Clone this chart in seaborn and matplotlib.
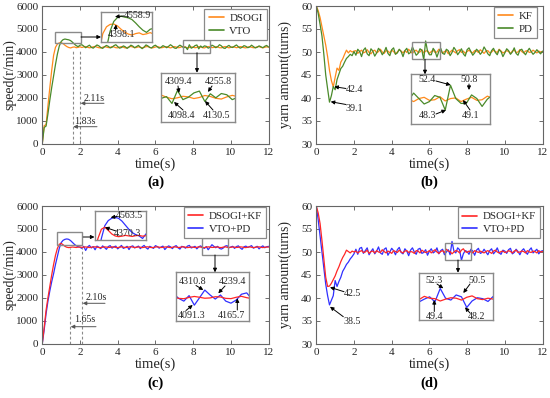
import numpy as np
import pandas as pd
import seaborn as sns
import matplotlib.pyplot as plt
from matplotlib.patches import Rectangle
from matplotlib.lines import Line2D

W, H = 550, 398

# time grid, 0.1 s steps
time = np.round(np.arange(121) * 0.1, 1)

# (a) motor speed, r/min
speed_dsogi = [
    0, 780, 820, 1650, 2450, 3200, 3850, 4200, 4340, 4390,
    4398, 4360, 4290, 4230, 4190, 4170, 4200, 4215, 4180, 4195, 4220,
    4190, 4215, 4230, 4200, 4175, 4190, 4220, 4235, 4205, 4180,
    4170, 4200, 4225, 4210, 4185, 4195, 4230, 4215, 4180, 4175,
    4205, 4228, 4200, 4170, 4185, 4215, 4235, 4210, 4180, 4190,
    4220, 4200, 4175, 4195, 4225, 4230, 4195, 4170, 4185, 4210,
    4232, 4205, 4178, 4190, 4218, 4225, 4195, 4172, 4200, 4230,
    4210, 4180, 4188, 4222, 4236, 4200, 4175, 4190, 4215, 4205,
    4178, 4195, 4228, 4212, 4182, 4170, 4205, 4230, 4208, 4185,
    4192, 4225, 4218, 4180, 4176, 4210, 4234, 4200, 4174, 4195,
    4220, 4205, 4180, 4198, 4230, 4215, 4182, 4172, 4206, 4228,
    4200, 4178, 4190, 4222, 4230, 4196, 4175, 4200, 4218, 4205]
speed_vto = [
    0, 700, 760, 1300, 1900, 2450, 2950, 3450, 3900, 4250,
    4450, 4530, 4559, 4540, 4525, 4490, 4420, 4340, 4270, 4225, 4290,
    4310, 4250, 4180, 4240, 4290, 4200, 4160, 4230, 4300, 4260,
    4190, 4150, 4220, 4280, 4240, 4170, 4200, 4270, 4310, 4230,
    4160, 4190, 4260, 4220, 4150, 4210, 4290, 4250, 4180, 4230,
    4280, 4200, 4140, 4210, 4300, 4260, 4190, 4170, 4250, 4290,
    4220, 4160, 4200, 4270, 4230, 4180, 4240, 4310, 4250, 4170,
    4150, 4230, 4290, 4240, 4180, 4210, 4098, 4309, 4160, 4200,
    4270, 4300, 4130, 4256, 4190, 4260, 4240, 4160, 4200, 4290,
    4250, 4180, 4220, 4310, 4260, 4170, 4150, 4230, 4280, 4210,
    4190, 4250, 4300, 4220, 4160, 4200, 4270, 4240, 4180, 4210,
    4290, 4230, 4170, 4200, 4260, 4220, 4180, 4240, 4280, 4210]

# (b) yarn amount, turns
yarn_kf = [
    60, 59.0, 57.5, 55.5, 53.5, 51.5, 49.0, 46.0, 43.8, 42.4,
    44.5, 46.5, 46.0, 47.8, 48.5, 49.5, 50.4, 49.8, 50.3, 50.0, 50.2,
    50.3, 49.7, 50.1, 50.4, 49.8, 50.0, 50.5, 49.9, 49.6, 50.2,
    50.4, 49.8, 50.1, 50.6, 50.0, 49.7, 50.3, 50.2, 49.8, 50.4,
    50.1, 49.6, 50.0, 50.5, 50.2, 49.8, 50.3, 49.9, 50.6, 50.1,
    49.7, 50.2, 50.4, 49.9, 50.0, 50.5, 49.8, 50.2, 50.3, 49.7,
    50.1, 50.4, 49.9, 50.0, 50.6, 50.2, 49.8, 50.1, 50.3, 49.6,
    50.0, 50.4, 50.1, 49.8, 50.3, 50.5, 49.9, 50.2, 49.7, 50.1,
    50.4, 50.0, 49.8, 50.3, 50.2, 49.9, 50.5, 50.1, 49.7, 50.2,
    50.3, 49.8, 50.0, 50.4, 50.1, 49.9, 50.6, 50.2, 49.8, 50.0,
    50.3, 50.1, 49.7, 50.2, 50.4, 49.9, 50.0, 50.5, 50.1, 49.8,
    50.2, 50.3, 49.9, 50.0, 50.4, 50.1, 49.8, 50.2, 50.0, 50.1]
yarn_pd = [
    60, 58.4, 56.0, 53.5, 49.5, 45.0, 42.0, 39.1, 40.5, 42.5,
    41.8, 44.0, 45.2, 46.4, 46.9, 47.8, 48.6, 49.0, 49.5, 49.2, 50.1,
    49.3, 50.6, 50.1, 49.0, 50.4, 50.9, 49.6, 49.2, 50.7, 50.2,
    49.1, 49.8, 50.8, 50.3, 49.4, 50.0, 51.0, 49.7, 49.2, 50.5,
    50.9, 49.5, 49.8, 50.6, 50.1, 49.0, 50.3, 50.8, 49.6, 49.9,
    51.1, 50.2, 49.3, 49.7, 50.7, 50.4, 48.3, 52.4, 50.2, 49.4,
    49.4, 50.8, 50.2, 48.9, 50.1, 50.8, 49.7, 49.5, 50.6, 50.3,
    49.2, 49.9, 51.0, 50.4, 49.4, 50.0, 50.7, 49.6, 49.1, 50.5,
    50.9, 50.1, 49.3, 49.8, 50.6, 50.2, 49.5, 50.0, 51.1, 50.4,
    49.6, 49.2, 50.3, 50.8, 49.9, 49.4, 50.5, 50.1, 49.0, 49.8,
    50.7, 50.3, 49.5, 50.0, 50.9, 49.7, 49.3, 50.4, 50.6, 49.9,
    49.4, 50.2, 50.8, 50.1, 49.5, 49.9, 50.5, 50.0, 49.6, 50.2]

# (c) speed, combined methods
speed_dsogi_kf = [
    0, 700, 1450, 2000, 2500, 3000, 3450, 3850, 4150, 4330,
    4370, 4310, 4240, 4200, 4185, 4195, 4210, 4200, 4190, 4205, 4210,
    4195, 4205, 4215, 4200, 4188, 4198, 4212, 4220, 4205, 4190,
    4185, 4200, 4215, 4208, 4192, 4196, 4218, 4210, 4190, 4186,
    4202, 4216, 4204, 4188, 4194, 4212, 4222, 4206, 4190, 4198,
    4214, 4200, 4186, 4196, 4215, 4218, 4198, 4185, 4192, 4208,
    4220, 4204, 4188, 4195, 4212, 4216, 4196, 4184, 4200, 4218,
    4208, 4190, 4194, 4214, 4222, 4200, 4186, 4195, 4210, 4204,
    4188, 4198, 4216, 4208, 4190, 4185, 4204, 4218, 4206, 4192,
    4196, 4214, 4210, 4190, 4186, 4206, 4220, 4200, 4186, 4198,
    4212, 4204, 4190, 4198, 4216, 4210, 4192, 4184, 4204, 4216,
    4200, 4188, 4195, 4212, 4218, 4198, 4186, 4200, 4210, 4204]
speed_vto_pd = [
    0, 600, 1300, 1850, 2300, 2700, 3050, 3450, 3800, 4150,
    4400, 4500, 4545, 4563, 4545, 4490, 4410, 4330, 4265, 4225, 4200,
    4150, 4240, 4060, 4210, 4280, 4170, 4230, 4090, 4250, 4200,
    4140, 4260, 4190, 4110, 4230, 4270, 4160, 4220, 4250, 4130,
    4200, 4280, 4150, 4190, 4240, 4100, 4230, 4260, 4170, 4210,
    4250, 4140, 4220, 4280, 4180, 4120, 4240, 4200, 4150, 4270,
    4230, 4160, 4210, 4250, 4100, 4190, 4260, 4220, 4140, 4230,
    4270, 4180, 4120, 4240, 4210, 4160, 4250, 4280, 4170, 4200,
    4240, 4130, 4220, 4260, 4190, 4150, 4230, 4091, 4200, 4311,
    4240, 4180, 4239, 4150, 4120, 4166, 4250, 4270, 4180, 4210,
    4240, 4150, 4230, 4260, 4170, 4110, 4220, 4250, 4190, 4230,
    4270, 4160, 4200, 4240, 4130, 4210, 4260, 4180, 4220, 4240]

# (d) yarn amount, combined methods
yarn_dsogi_kf = [
    60, 58.5, 56.2, 52.5, 48.5, 44.5, 42.5, 42.6, 43.2, 44.0,
    44.8, 45.9, 46.8, 47.9, 48.8, 49.5, 50.4, 50.1, 49.8, 50.2, 50.0,
    50.2, 49.8, 50.1, 50.3, 49.9, 50.0, 50.4, 49.7, 50.1, 50.2,
    49.8, 50.3, 50.0, 49.9, 50.5, 50.1, 49.8, 50.2, 50.0, 49.7,
    50.3, 50.1, 49.9, 50.4, 50.0, 49.8, 50.2, 50.3, 49.9, 50.1,
    50.0, 49.7, 50.3, 50.2, 49.8, 50.4, 50.1, 49.9, 50.0, 50.3,
    49.8, 50.2, 50.5, 50.0, 49.7, 50.1, 50.3, 49.9, 50.6, 50.2,
    50.1, 49.6, 50.0, 50.3, 50.2, 49.8, 50.4, 50.7, 50.1, 49.9,
    50.2, 50.0, 49.8, 50.3, 50.1, 49.9, 50.2, 50.0, 49.8, 50.1,
    50.3, 50.0, 49.7, 50.2, 50.4, 50.0, 49.8, 50.1, 50.2, 49.9,
    50.0, 50.3, 50.1, 49.8, 50.2, 50.4, 49.9, 50.0, 50.2, 50.1,
    49.8, 50.3, 50.0, 49.9, 50.2, 50.1, 49.8, 50.3, 50.0, 50.1]
yarn_vto_pd = [
    60, 57.0, 53.5, 50.0, 46.5, 43.0, 40.5, 38.5, 39.5, 40.5,
    43.8, 42.5, 43.6, 44.5, 45.8, 46.5, 47.3, 47.8, 48.5, 49.0, 49.6,
    50.6, 49.5, 50.8, 51.0, 49.7, 50.3, 50.9, 49.4, 50.1, 50.7,
    49.6, 50.2, 51.1, 49.8, 49.5, 50.6, 50.9, 49.3, 50.0, 50.8,
    50.3, 49.4, 50.5, 51.0, 49.9, 49.6, 50.7, 50.2, 49.2, 50.4,
    50.9, 50.0, 49.5, 50.6, 50.8, 49.7, 49.9, 50.5, 49.3, 50.2,
    50.7, 49.8, 50.1, 50.9, 49.6, 50.3, 50.6, 49.4, 50.0, 50.5,
    49.4, 52.3, 50.2, 49.8, 50.9, 50.5, 48.2, 49.6, 50.3, 50.1,
    49.5, 50.6, 50.2, 49.3, 50.4, 50.8, 49.7, 49.9, 50.6, 50.0,
    49.4, 50.3, 50.7, 49.6, 50.1, 50.9, 49.8, 49.5, 50.4, 50.2,
    49.7, 50.5, 50.8, 49.6, 49.9, 50.6, 50.1, 49.4, 50.3, 50.7,
    50.0, 49.5, 50.4, 50.9, 49.8, 50.2, 50.6, 49.6, 50.1, 50.3]

# settling-time markers (s) and their labels
settle_a = [1.61, 2.0]
settle_a_labels = ['1.83s', '2.11s']
settle_c = [1.47, 2.09]
settle_c_labels = ['1.65s', '2.10s']

ORANGE = '#ff8a1c'
GREEN = '#4a8a2a'
RED = '#ff2626'
BLUE = '#3030ff'
GRAY = '#8a8a8a'
TXT = '#262626'

sns.set_style('ticks')
plt.rcParams['font.family'] = ['Liberation Serif', 'DejaVu Serif']

fig = plt.figure(figsize=(W / 100, H / 100), dpi=100)


def add_px_axes(x0, y0, x1, y1):
    return fig.add_axes([x0 / W, 1 - y1 / H, (x1 - x0) / W, (y1 - y0) / H])


def draw_curves(ax, names, series, colors, order, lw=0.9):
    df = pd.DataFrame({'time': np.tile(time, len(names)),
                       'value': np.concatenate([np.asarray(s, float) for s in series]),
                       'curve': np.repeat(names, len(time))})
    sns.lineplot(data=df, x='time', y='value', hue='curve', hue_order=order,
                 palette=dict(zip(names, colors)), estimator=None,
                 linewidth=lw, legend=False, ax=ax)
    ax.set_xlabel('')
    ax.set_ylabel('')


def style_main(ax, ylim, yticks, ylabel, ylab_x):
    ax.set_xlim(0, 12)
    ax.set_ylim(*ylim)
    ax.set_xticks(range(0, 13, 2))
    ax.set_yticks(yticks)
    ax.tick_params(direction='in', top=True, right=True, length=3, width=0.6,
                   labelsize=8, labelcolor=TXT, color='#555555', pad=3)
    for sp in ax.spines.values():
        sp.set_color('#666666')
        sp.set_linewidth(0.8)
    ax.set_xlabel('time(s)', fontsize=10.5, color=TXT)
    ax.xaxis.set_label_coords(0.5, -0.1)
    ax.set_ylabel(ylabel, fontsize=10, color=TXT)
    ax.yaxis.set_label_coords(ylab_x, 0.5)


def add_legend(ax, names, colors, anchor):
    handles = [Line2D([0], [0], color=c, lw=1.2) for c in colors]
    leg = ax.legend(handles, names, loc='upper right', bbox_to_anchor=anchor,
                    borderaxespad=0, fontsize=7.8, handlelength=1.4,
                    handletextpad=0.5, labelspacing=0.3, borderpad=0.4,
                    fancybox=False, framealpha=1)
    leg.get_frame().set_edgecolor(GRAY)
    leg.get_frame().set_linewidth(0.9)
    for t in leg.get_texts():
        t.set_color(TXT)


def add_inset(box, names, series, colors, order, xlim, ylim):
    ins = add_px_axes(*box)
    draw_curves(ins, names, series, colors, order, lw=0.9)
    ins.set_xlim(*xlim)
    ins.set_ylim(*ylim)
    ins.set_xticks([])
    ins.set_yticks([])
    for sp in ins.spines.values():
        sp.set_color(GRAY)
        sp.set_linewidth(1.0)
    return ins


def source_box(ax, t0, t1, v0, v1):
    ax.add_patch(Rectangle((t0, v0), t1 - t0, v1 - v0, fill=False,
                           ec=GRAY, lw=1.0, zorder=5))


# main axes
ax_a = add_px_axes(42.3, 6, 268.5, 143.5)
ax_b = add_px_axes(316.3, 6, 542.5, 144)
ax_c = add_px_axes(42.3, 206, 268.5, 343.5)
ax_d = add_px_axes(316.3, 206, 542.5, 344)

names_a = ['DSOGI', 'VTO']
names_b = ['KF', 'PD']
names_c = ['DSOGI+KF', 'VTO+PD']

draw_curves(ax_a, names_a, [speed_dsogi, speed_vto], [ORANGE, GREEN], ['DSOGI', 'VTO'])
draw_curves(ax_b, names_b, [yarn_kf, yarn_pd], [ORANGE, GREEN], ['KF', 'PD'])
draw_curves(ax_c, names_c, [speed_dsogi_kf, speed_vto_pd], [RED, BLUE], ['VTO+PD', 'DSOGI+KF'])
draw_curves(ax_d, names_c, [yarn_dsogi_kf, yarn_vto_pd], [RED, BLUE], ['VTO+PD', 'DSOGI+KF'])

style_main(ax_a, (0, 6000), range(0, 6001, 1000), 'speed(r/min)', -0.115)
style_main(ax_b, (30, 60), range(30, 61, 5), 'yarn amount(turns)', -0.109)
style_main(ax_c, (0, 6000), range(0, 6001, 1000), 'speed(r/min)', -0.115)
style_main(ax_d, (30, 60), range(30, 61, 5), 'yarn amount(turns)', -0.109)

add_legend(ax_a, names_a, [ORANGE, GREEN], (0.993, 0.978))
add_legend(ax_b, names_b, [ORANGE, GREEN], (0.975, 0.993))
add_legend(ax_c, names_c, [RED, BLUE], (0.99, 0.993))
add_legend(ax_d, names_c, [RED, BLUE], (0.99, 0.99))

for t in settle_a:
    ax_a.vlines(t, 0, 4050, colors=GRAY, linestyles=(0, (2.5, 2)), lw=0.8)
for t in settle_c:
    ax_c.vlines(t, 0, 4150, colors=GRAY, linestyles=(0, (2.5, 2)), lw=0.8)

source_box(ax_a, 0.67, 2.05, 4376, 4854)
source_box(ax_a, 7.47, 8.9, 3960, 4515)
source_box(ax_b, 5.06, 6.56, 48.4, 52.1)
source_box(ax_c, 0.8, 2.1, 4290, 4880)
source_box(ax_c, 8.47, 9.87, 3861, 4603)
source_box(ax_d, 6.83, 8.2, 48.2, 52.0)

# zoomed insets
add_inset((101, 11.7, 152, 41.7), names_a, [speed_dsogi, speed_vto], [ORANGE, GREEN],
          ['DSOGI', 'VTO'], (0.65, 2.05), (4033, 4652))
add_inset((161, 72.7, 235, 121.7), names_a, [speed_dsogi, speed_vto], [ORANGE, GREEN],
          ['DSOGI', 'VTO'], (7.5, 8.85), (3800, 4600))
add_inset((411, 74.3, 490, 124), names_b, [yarn_kf, yarn_pd], [ORANGE, GREEN],
          ['KF', 'PD'], (5.05, 6.55), (46.0, 54.2))
add_inset((94.5, 211, 146, 240), names_c, [speed_dsogi_kf, speed_vto_pd], [RED, BLUE],
          ['VTO+PD', 'DSOGI+KF'], (0.7, 2.2), (4120, 4688))
add_inset((176, 272.3, 249.3, 321), names_c, [speed_dsogi_kf, speed_vto_pd], [RED, BLUE],
          ['VTO+PD', 'DSOGI+KF'], (8.45, 9.85), (3860, 4570))
add_inset((419, 272.7, 493.3, 320), names_c, [yarn_dsogi_kf, yarn_vto_pd], [RED, BLUE],
          ['VTO+PD', 'DSOGI+KF'], (6.8, 8.2), (45.5, 55.7))

# overlay in pixel units for callouts
over = fig.add_axes([0, 0, 1, 1], zorder=20)
over.set_xlim(0, W)
over.set_ylim(H, 0)
over.axis('off')
over.patch.set_alpha(0)


def arrow(x0, y0, x1, y1, color='black', lw=0.7):
    over.annotate('', xy=(x1, y1), xytext=(x0, y0),
                  arrowprops=dict(arrowstyle='-|>', color=color, lw=lw,
                                  mutation_scale=5.5, shrinkA=0, shrinkB=0))


def label(x, y, s, size=7.2):
    over.text(x, y, s, ha='center', va='center', fontsize=size, color=TXT)


# box-to-inset arrows
arrow(81, 37, 101, 37)
arrow(197, 52.7, 197, 72.7)
arrow(425, 59.3, 425, 74.3)
arrow(83.3, 237, 94.5, 237)
arrow(215, 255, 215, 272.3)
arrow(458, 260, 458, 272.7)

# (a) callouts
label(137.5, 15.5, '4558.9'); arrow(124, 16, 115, 16.7)
label(122, 34.5, '4398.1'); arrow(115.5, 30, 116, 24.5)
label(178.5, 81.7, '4309.4'); arrow(178, 86, 179, 93)
label(218.5, 81.7, '4255.8'); arrow(212, 86, 208, 92)
label(182, 115, '4098.4'); arrow(183, 110, 174, 102)
label(216.5, 115, '4130.5'); arrow(213, 110, 205, 101)
label(94.5, 98.3, settle_a_labels[1]); arrow(104, 103.3, 80.7, 103.3, color='#555555')
label(85, 121, settle_a_labels[0]); arrow(97, 126.7, 73.3, 126.7, color='#555555')

# (b) callouts
label(354, 90, '42.4'); arrow(346, 88.5, 334.3, 86.7)
label(354.5, 108.7, '39.1'); arrow(346, 104.5, 330.7, 101.7)
label(427.5, 80, '52.4'); arrow(436, 81, 450.7, 85)
label(469.5, 80, '50.8'); arrow(469, 84, 469, 90)
label(427.5, 115, '48.3'); arrow(436, 114, 446, 110)
label(470.5, 115, '49.1'); arrow(470, 110, 463, 100)

# (c) callouts
label(129, 216, '4563.5'); arrow(117, 216.5, 110.7, 217.5)
label(128, 234, '4370.3'); arrow(116, 231, 105, 227.3)
label(192.5, 281.7, '4310.8'); arrow(196, 285.5, 203.3, 290)
label(232.5, 281.7, '4239.4'); arrow(225, 286, 218.3, 293.3)
label(192, 315, '4091.3'); arrow(186, 310.5, 192.7, 305)
label(231.5, 315, '4165.7'); arrow(237.3, 310, 237.3, 298.3)
label(96, 297.7, settle_c_labels[1]); arrow(105, 303.3, 82.7, 303.3, color='#555555')
label(85, 319.3, settle_c_labels[0]); arrow(96, 326.7, 70.7, 326.7, color='#555555')

# (d) callouts
label(352.5, 294, '42.5'); arrow(344, 291.7, 330, 287.3)
label(352.5, 321.7, '38.5'); arrow(343.3, 316.7, 330, 306.7)
label(434.5, 280.7, '52.3'); arrow(437, 284, 443.3, 288.3)
label(477, 280.7, '50.5'); arrow(470, 284, 463.3, 293)
label(434.5, 316.7, '49.4'); arrow(434.3, 311.5, 434.3, 300)
label(477, 316.7, '48.2'); arrow(470, 313, 465, 307.3)

# panel tags
for x, y, s in [(155.5, 182, '(a)'), (429.5, 182, '(b)'),
                (155.5, 383, '(c)'), (429.5, 383, '(d)')]:
    over.text(x, y, s, ha='center', va='center', fontsize=10.5,
              fontweight='bold', color='black')

fig.savefig('out.png', dpi=100)
